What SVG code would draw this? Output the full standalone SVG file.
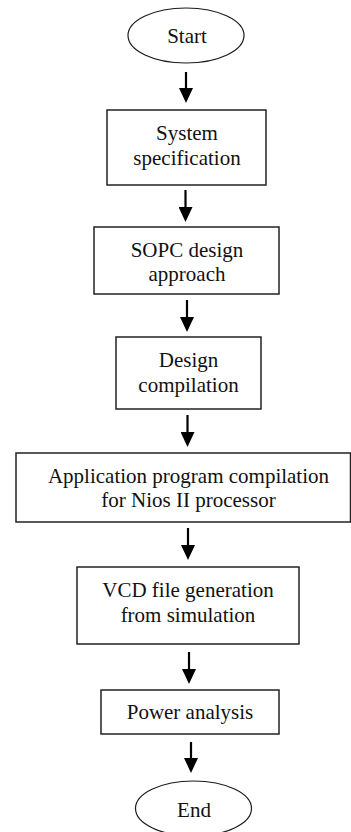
<svg xmlns="http://www.w3.org/2000/svg" width="351" height="832" viewBox="0 0 351 832">
  <style>
    .term { fill: #ffffff; stroke: #1a1a1a; stroke-width: 1.2; }
    .box { fill: #ffffff; stroke: #222222; stroke-width: 1.5; }
    .lbl { font-family: "Liberation Serif", "Times New Roman", serif; font-size: 21px; fill: #111111; text-anchor: middle; }
    .flow { stroke: #000000; stroke-width: 2.2; fill: none; marker-end: url(#head); }
  </style>
  <defs>
    <marker id="head" viewBox="0 0 15 14" refX="0" refY="7" markerWidth="15" markerHeight="14" markerUnits="userSpaceOnUse" orient="auto">
      <path d="M0,0 L15,7 L0,14 z" fill="#000000"/>
    </marker>
  </defs>
  <rect width="351" height="832" fill="#ffffff"/>

  <g id="connectors">
    <line class="flow" x1="186" y1="72" x2="186" y2="88"/>
    <line class="flow" x1="185.5" y1="190" x2="185.5" y2="207"/>
    <line class="flow" x1="187" y1="300" x2="187" y2="317"/>
    <line class="flow" x1="187.5" y1="415" x2="187.5" y2="432"/>
    <line class="flow" x1="188" y1="528" x2="188" y2="545"/>
    <line class="flow" x1="189" y1="652" x2="189" y2="669"/>
    <line class="flow" x1="191" y1="742" x2="191" y2="758"/>
  </g>

  <g id="start">
    <ellipse class="term" cx="186" cy="35.5" rx="58" ry="27.5"/>
    <text class="lbl" x="187" y="43">Start</text>
  </g>

  <g id="system-specification">
    <rect class="box" x="107" y="110" width="159" height="75"/>
    <text class="lbl" x="187" y="140">System</text>
    <text class="lbl" x="187" y="165">specification</text>
  </g>

  <g id="sopc-design">
    <rect class="box" x="94" y="227" width="185" height="67"/>
    <text class="lbl" x="187" y="257">SOPC design</text>
    <text class="lbl" x="187" y="281">approach</text>
  </g>

  <g id="design-compilation">
    <rect class="box" x="116" y="337" width="145" height="72"/>
    <text class="lbl" x="188.5" y="367">Design</text>
    <text class="lbl" x="188.5" y="392">compilation</text>
  </g>

  <g id="application-compilation">
    <rect class="box" x="16" y="453" width="334.5" height="69"/>
    <text class="lbl" x="188.5" y="483">Application program compilation</text>
    <text class="lbl" x="188.5" y="507">for Nios II processor</text>
  </g>

  <g id="vcd-generation">
    <rect class="box" x="77" y="567" width="222" height="77"/>
    <text class="lbl" x="188" y="597">VCD file generation</text>
    <text class="lbl" x="188" y="622">from simulation</text>
  </g>

  <g id="power-analysis">
    <rect class="box" x="101" y="690" width="178" height="44"/>
    <text class="lbl" x="190" y="719">Power analysis</text>
  </g>

  <g id="end">
    <ellipse class="term" cx="193.5" cy="808.5" rx="58" ry="27.5"/>
    <text class="lbl" x="194" y="817">End</text>
  </g>
</svg>
